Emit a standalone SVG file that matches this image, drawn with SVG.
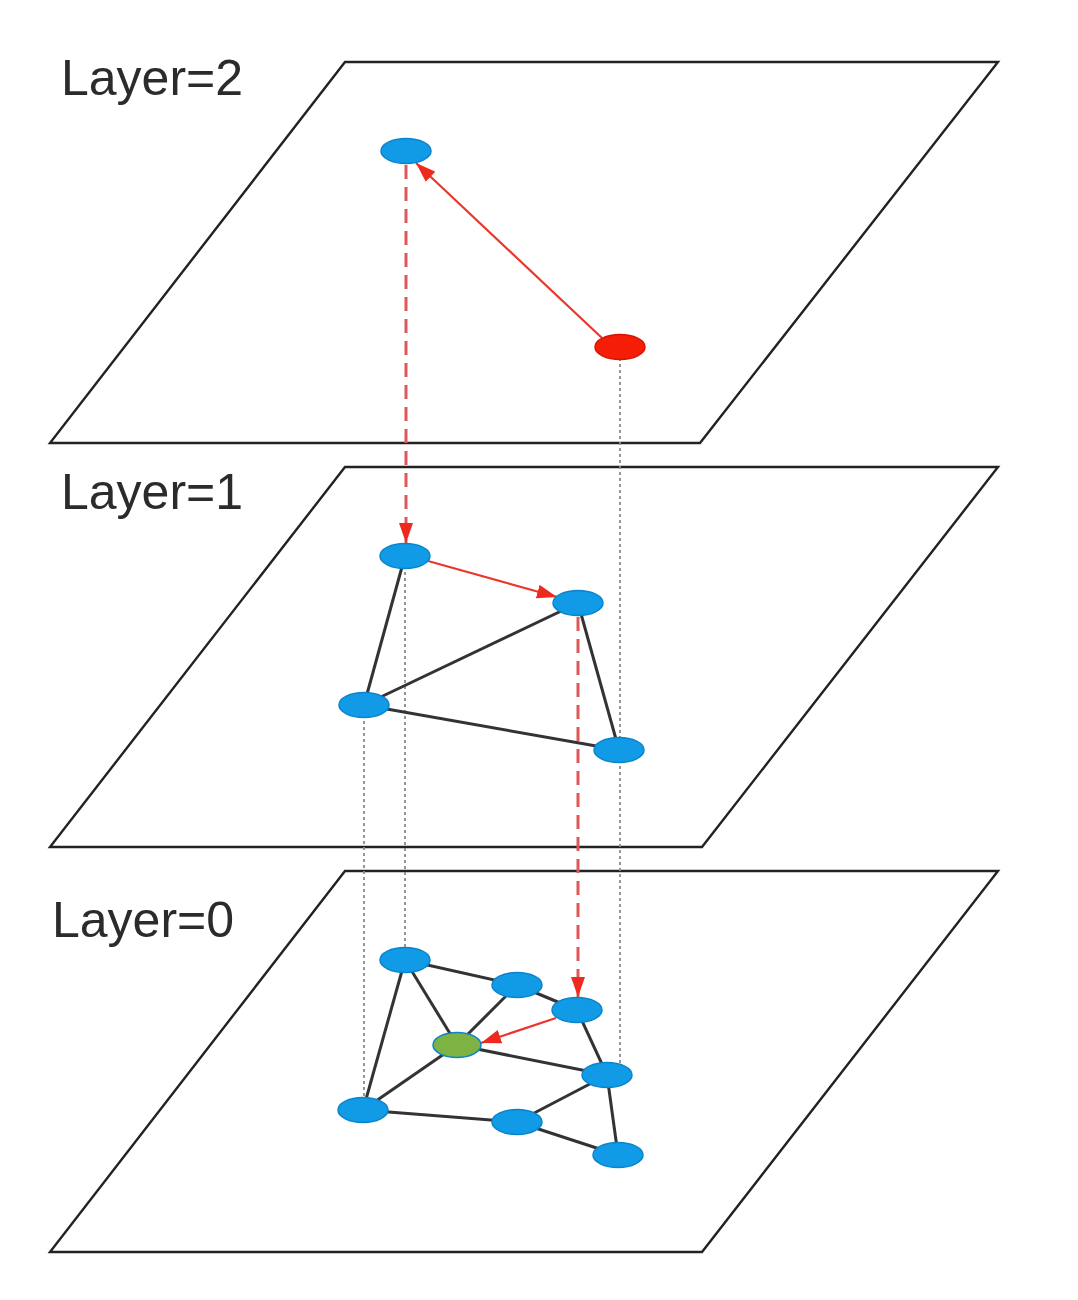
<svg xmlns="http://www.w3.org/2000/svg" width="1078" height="1300" viewBox="0 0 1078 1300">
<defs>
<marker id="ah" viewBox="0 0 20 14" refX="20" refY="7" markerWidth="20" markerHeight="14" markerUnits="userSpaceOnUse" orient="auto">
<path d="M0,0 L20,7 L0,14 z" fill="#ee2a1e"/>
</marker>
<style>
.plane{fill:#fff;stroke:#222;stroke-width:2.4}
.lbl{font-family:"Liberation Sans",Arial,sans-serif;font-size:50px;fill:#2b2b2b}
.nb{fill:#119be6;stroke:#0a84cc;stroke-width:1.5}
.nr{fill:#f51d05;stroke:#d41500;stroke-width:1.5}
.ng{fill:#7cb342;stroke:#0a84cc;stroke-width:1.5}
.e{stroke:#333;stroke-width:3;fill:none}
.dot{stroke:#8a8a8a;stroke-width:1.8;stroke-dasharray:3,3;fill:none}
.rd{stroke:#e0575a;stroke-width:3;stroke-dasharray:14,8;fill:none}
.ra{stroke:#e8382c;stroke-width:2.2;fill:none}
</style>
</defs>
<rect width="1078" height="1300" fill="#fff"/>
<g id="planes">
<polygon class="plane" points="345,62 998,62 700,443 50,443"/>
<polygon class="plane" points="345,467 998,467 702,847 50,847"/>
<polygon class="plane" points="345,871 998,871 702,1252 50,1252"/>
</g>
<g id="labels">
<text class="lbl" x="61" y="95">Layer=2</text>
<text class="lbl" x="61" y="509">Layer=1</text>
<text class="lbl" x="52" y="937">Layer=0</text>
</g>
<g id="connectors">
<line class="dot" x1="620" y1="358" x2="620" y2="1072"/>
<line class="dot" x1="405" y1="566" x2="405" y2="952"/>
<line class="dot" x1="364" y1="715" x2="364" y2="1102"/>
<line class="e" x1="405" y1="556" x2="364" y2="705"/>
<line class="e" x1="364" y1="705" x2="578" y2="603"/>
<line class="e" x1="364" y1="705" x2="619" y2="750"/>
<line class="e" x1="578" y1="603" x2="619" y2="750"/>
<line class="e" x1="405" y1="960" x2="517" y2="985"/>
<line class="e" x1="517" y1="985" x2="577" y2="1010"/>
<line class="e" x1="405" y1="960" x2="363" y2="1110"/>
<line class="e" x1="405" y1="960" x2="457" y2="1045"/>
<line class="e" x1="457" y1="1045" x2="517" y2="985"/>
<line class="e" x1="457" y1="1045" x2="363" y2="1110"/>
<line class="e" x1="457" y1="1045" x2="607" y2="1075"/>
<line class="e" x1="577" y1="1010" x2="607" y2="1075"/>
<line class="e" x1="607" y1="1075" x2="517" y2="1122"/>
<line class="e" x1="607" y1="1075" x2="618" y2="1155"/>
<line class="e" x1="363" y1="1110" x2="517" y2="1122"/>
<line class="e" x1="517" y1="1122" x2="618" y2="1155"/>
<line class="rd" x1="406" y1="165" x2="406" y2="543" marker-end="url(#ah)"/>
<line class="rd" x1="578" y1="617" x2="578" y2="997" marker-end="url(#ah)"/>
<line class="ra" x1="602" y1="338" x2="416" y2="163" marker-end="url(#ah)"/>
<line class="ra" x1="428" y1="561" x2="557" y2="597" marker-end="url(#ah)"/>
<line class="ra" x1="556" y1="1018" x2="481" y2="1043" marker-end="url(#ah)"/>
</g>
<g id="n2a"><ellipse class="nb" cx="406" cy="151" rx="25" ry="12.5"/></g>
<g id="n2b"><ellipse class="nr" cx="620" cy="347" rx="25" ry="12.5"/></g>
<g id="n1a"><ellipse class="nb" cx="405" cy="556" rx="25" ry="12.5"/></g>
<g id="n1b"><ellipse class="nb" cx="578" cy="603" rx="25" ry="12.5"/></g>
<g id="n1c"><ellipse class="nb" cx="364" cy="705" rx="25" ry="12.5"/></g>
<g id="n1d"><ellipse class="nb" cx="619" cy="750" rx="25" ry="12.5"/></g>
<g id="n0a"><ellipse class="nb" cx="405" cy="960" rx="25" ry="12.5"/></g>
<g id="n0b"><ellipse class="nb" cx="517" cy="985" rx="25" ry="12.5"/></g>
<g id="n0c"><ellipse class="nb" cx="577" cy="1010" rx="25" ry="12.5"/></g>
<g id="n0g"><ellipse class="ng" cx="457" cy="1045" rx="24" ry="12.5"/></g>
<g id="n0d"><ellipse class="nb" cx="607" cy="1075" rx="25" ry="12.5"/></g>
<g id="n0e"><ellipse class="nb" cx="363" cy="1110" rx="25" ry="12.5"/></g>
<g id="n0f"><ellipse class="nb" cx="517" cy="1122" rx="25" ry="12.5"/></g>
<g id="n0h"><ellipse class="nb" cx="618" cy="1155" rx="25" ry="12.5"/></g>
</svg>
